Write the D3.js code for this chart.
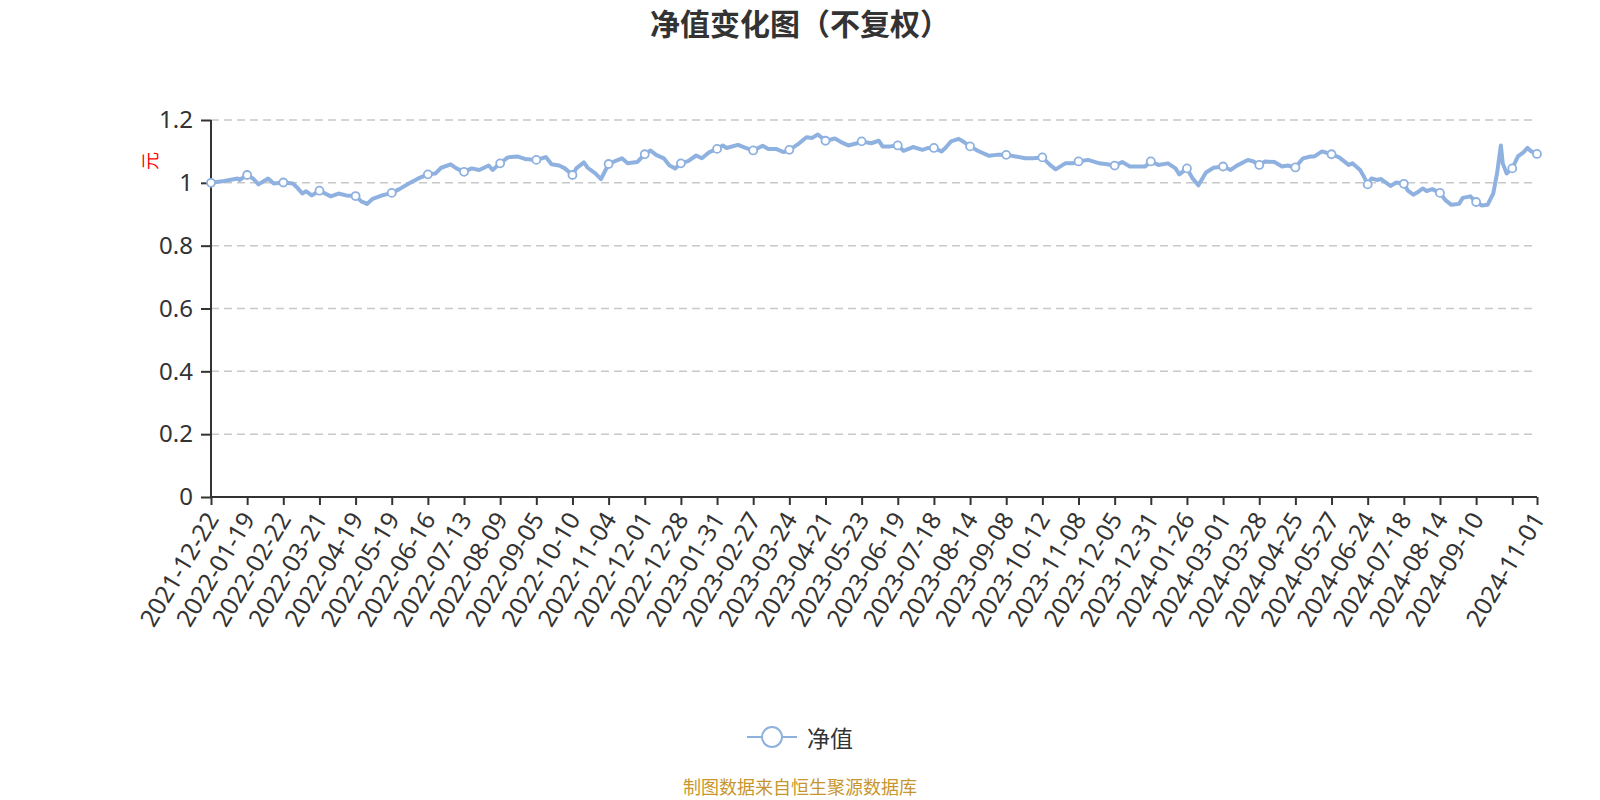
<!DOCTYPE html>
<html>
<head>
<meta charset="utf-8">
<script src="https://cdn.jsdelivr.net/npm/d3@7/dist/d3.min.js"></script>
<style>
  body { margin: 0; background: #fff; }
  svg text { font-family: "Noto Sans", "Noto Sans CJK SC", sans-serif; }
</style>
</head>
<body>
<div id="chart"></div>
<script>
var svgWidth = 1600;
var svgHeight = 800;

// x axis: trading-day index of each tick, and its label ("" = tick without label)
var tickDays = [0, 19, 38, 57, 76, 95, 114, 133, 152, 171, 190, 209, 228, 247, 266, 285, 304, 323, 342,
    361, 380, 399, 418, 437, 456, 475, 494, 513, 532, 551, 570, 589, 608, 627, 646, 665, 684, 697];
var tickLabels = ["2021-12-22", "2022-01-19", "2022-02-22", "2022-03-21", "2022-04-19", "2022-05-19",
    "2022-06-16", "2022-07-13", "2022-08-09", "2022-09-05", "2022-10-10", "2022-11-04", "2022-12-01",
    "2022-12-28", "2023-01-31", "2023-02-27", "2023-03-24", "2023-04-21", "2023-05-23", "2023-06-19",
    "2023-07-18", "2023-08-14", "2023-09-08", "2023-10-12", "2023-11-08", "2023-12-05", "2023-12-31",
    "2024-01-26", "2024-03-01", "2024-03-28", "2024-04-25", "2024-05-27", "2024-06-24", "2024-07-18",
    "2024-08-14", "2024-09-10", "", "2024-11-01"];

var yTicks = [0, 0.2, 0.4, 0.6, 0.8, 1, 1.2];

// net value series: trading-day index and value
var navDay = [0, 7, 14, 15, 19, 22, 25, 30, 33, 38, 43, 45, 48, 50, 53, 57, 63, 67, 71, 76, 79, 82, 85, 90,
    95, 99, 104, 109, 114, 118, 121, 126, 129, 133, 137, 141, 146, 148, 152, 156, 161, 165, 171, 176, 179,
    183, 186, 190, 192, 196, 198, 202, 205, 209, 212, 216, 219, 224, 228, 231, 234, 238, 241, 244, 247, 251,
    255, 258, 262, 266, 269, 271, 277, 281, 285, 290, 293, 297, 301, 304, 309, 313, 316, 319, 323, 328, 332,
    335, 339, 342, 347, 351, 353, 357, 361, 364, 369, 374, 377, 380, 384, 386, 389, 393, 396, 399, 403, 409,
    413, 418, 423, 428, 432, 437, 441, 444, 449, 453, 456, 461, 467, 471, 475, 479, 483, 488, 491, 494, 498,
    503, 507, 509, 513, 516, 519, 523, 527, 532, 536, 539, 545, 548, 551, 554, 559, 563, 566, 570, 574, 578,
    580, 584, 589, 593, 598, 600, 604, 606, 608, 610, 613, 615, 620, 623, 627, 629, 632, 634, 637, 639, 642,
    646, 649, 652, 656, 658, 662, 665, 668, 671, 674, 676, 678, 679, 681, 684, 687, 690, 692, 694, 697];
var navValue = [1.000, 1.006, 1.014, 1.009, 1.025, 1.014, 0.995, 1.014, 0.998, 1.001, 0.998, 0.987, 0.966,
    0.973, 0.960, 0.975, 0.957, 0.966, 0.960, 0.958, 0.941, 0.933, 0.949, 0.960, 0.968, 0.980, 0.998, 1.014,
    1.027, 1.030, 1.048, 1.059, 1.046, 1.035, 1.046, 1.041, 1.055, 1.041, 1.062, 1.081, 1.084, 1.076, 1.073,
    1.082, 1.059, 1.055, 1.046, 1.025, 1.046, 1.065, 1.048, 1.030, 1.012, 1.060, 1.068, 1.078, 1.062, 1.066,
    1.091, 1.103, 1.089, 1.078, 1.055, 1.046, 1.062, 1.070, 1.087, 1.078, 1.098, 1.108, 1.119, 1.111, 1.121,
    1.111, 1.103, 1.118, 1.108, 1.108, 1.098, 1.105, 1.125, 1.145, 1.143, 1.154, 1.134, 1.141, 1.127, 1.119,
    1.125, 1.132, 1.126, 1.134, 1.116, 1.116, 1.119, 1.102, 1.114, 1.105, 1.111, 1.111, 1.100, 1.111, 1.132,
    1.140, 1.129, 1.116, 1.102, 1.086, 1.089, 1.089, 1.084, 1.078, 1.078, 1.081, 1.057, 1.043, 1.062, 1.062,
    1.068, 1.073, 1.062, 1.059, 1.055, 1.066, 1.052, 1.052, 1.052, 1.068, 1.057, 1.062, 1.046, 1.027, 1.046,
    1.014, 0.992, 1.033, 1.048, 1.052, 1.041, 1.054, 1.073, 1.068, 1.057, 1.068, 1.066, 1.052, 1.055, 1.049,
    1.078, 1.084, 1.084, 1.100, 1.091, 1.081, 1.057, 1.062, 1.041, 1.020, 0.995, 1.014, 1.009, 1.012, 0.990,
    1.001, 0.997, 0.976, 0.962, 0.969, 0.982, 0.974, 0.980, 0.968, 0.944, 0.930, 0.933, 0.952, 0.957, 0.939,
    0.928, 0.930, 0.966, 1.030, 1.119, 1.062, 1.030, 1.046, 1.084, 1.098, 1.111, 1.100, 1.092];

var lastDay = tickDays[tickDays.length - 1];

var margin = {top: 120, left: 211, right: 63, bottom: 303};
var width = svgWidth - margin.left - margin.right;
var height = svgHeight - margin.top - margin.bottom;

var svg = d3.select("#chart").append("svg").attr("width", svgWidth).attr("height", svgHeight);

var lineColor = "#8fb1e0";
var axisColor = "#333";

// title
svg.append("text").attr("x", 800).attr("y", 22).attr("text-anchor", "middle").attr("dominant-baseline", "central")
    .style("font-family", "'Noto Sans CJK SC'").style("font-size", "30px").style("font-weight", "bold")
    .attr("fill", "#333").text("净值变化图（不复权）");

var chartGroup = svg.append("g").attr("transform", `translate(${margin.left},${margin.top})`);

var xScale = d3.scaleLinear().domain([0, lastDay]).range([0, width]);
var yScale = d3.scaleLinear().domain([0, 1.2]).range([height, 0]);

// dashed grid
chartGroup.append("g").selectAll("line").data(yTicks.filter(d => d > 0)).enter().append("line")
    .attr("x1", 0).attr("x2", width).attr("y1", d => yScale(d)).attr("y2", d => yScale(d))
    .attr("stroke", "#c8c8c8").attr("stroke-width", 1.5).attr("stroke-dasharray", "8,5");

var leftAxis = d3.axisLeft(yScale).tickValues(yTicks).tickFormat(d3.format("~g")).tickSize(10).tickPadding(8);
var yAxis = chartGroup.append("g").call(leftAxis);
yAxis.select(".domain").attr("stroke", axisColor).attr("stroke-width", 2).attr("d", `M0,${height}V0`);
yAxis.selectAll(".tick line").attr("stroke", axisColor).attr("stroke-width", 2);
yAxis.selectAll("text").attr("fill", "#333").style("font-size", "24px");

var bottomAxis = d3.axisBottom(xScale).tickValues(tickDays).tickFormat((d, i) => tickLabels[i]).tickSize(8);
var xAxis = chartGroup.append("g").attr("transform", `translate(0,${height})`).call(bottomAxis);
xAxis.select(".domain").attr("stroke", axisColor).attr("stroke-width", 2).attr("d", `M0,0H${width}`);
xAxis.selectAll(".tick line").attr("stroke", axisColor).attr("stroke-width", 2);
xAxis.selectAll("text").attr("y", 0).attr("dy", null).attr("fill", "#333").style("font-size", "24.5px")
    .attr("text-anchor", "end").attr("dominant-baseline", "central")
    .attr("transform", "translate(0,17) rotate(-59)");

// y unit
svg.append("text").attr("transform", "translate(149,161) rotate(-90)").attr("text-anchor", "middle")
    .attr("dominant-baseline", "central").style("font-family", "'Noto Sans CJK SC'").style("font-size", "18px")
    .attr("fill", "#f00").text("元");

// line
var navData = navDay.map((d, i) => ({day: d, value: navValue[i]}));
var line = d3.line().x(d => xScale(d.day)).y(d => yScale(d.value));
chartGroup.append("path").datum(navData).attr("d", line).attr("fill", "none")
    .attr("stroke", lineColor).attr("stroke-width", 4).attr("stroke-linejoin", "round");

chartGroup.selectAll("circle.dot").data(navData.filter(d => d.day % 19 === 0 || d.day === lastDay)).enter()
    .append("circle").attr("class", "dot").attr("cx", d => xScale(d.day)).attr("cy", d => yScale(d.value))
    .attr("r", 4).attr("fill", "#fff").attr("stroke", lineColor).attr("stroke-width", 1.8);

// legend
var legend = svg.append("g").attr("transform", "translate(772,737)");
legend.append("line").attr("x1", -25).attr("x2", 25).attr("stroke", lineColor).attr("stroke-width", 2);
legend.append("circle").attr("r", 10).attr("fill", "#fff").attr("stroke", lineColor).attr("stroke-width", 2);
legend.append("text").attr("x", 35).attr("dominant-baseline", "central").style("font-family", "'Noto Sans CJK SC'")
    .style("font-size", "23px").attr("fill", "#333").text("净值");

// source note
svg.append("text").attr("x", 800).attr("y", 786).attr("text-anchor", "middle").attr("dominant-baseline", "central")
    .style("font-family", "'Noto Sans CJK SC'").style("font-size", "18px").attr("fill", "#c8962e")
    .text("制图数据来自恒生聚源数据库");
</script>
</body>
</html>
